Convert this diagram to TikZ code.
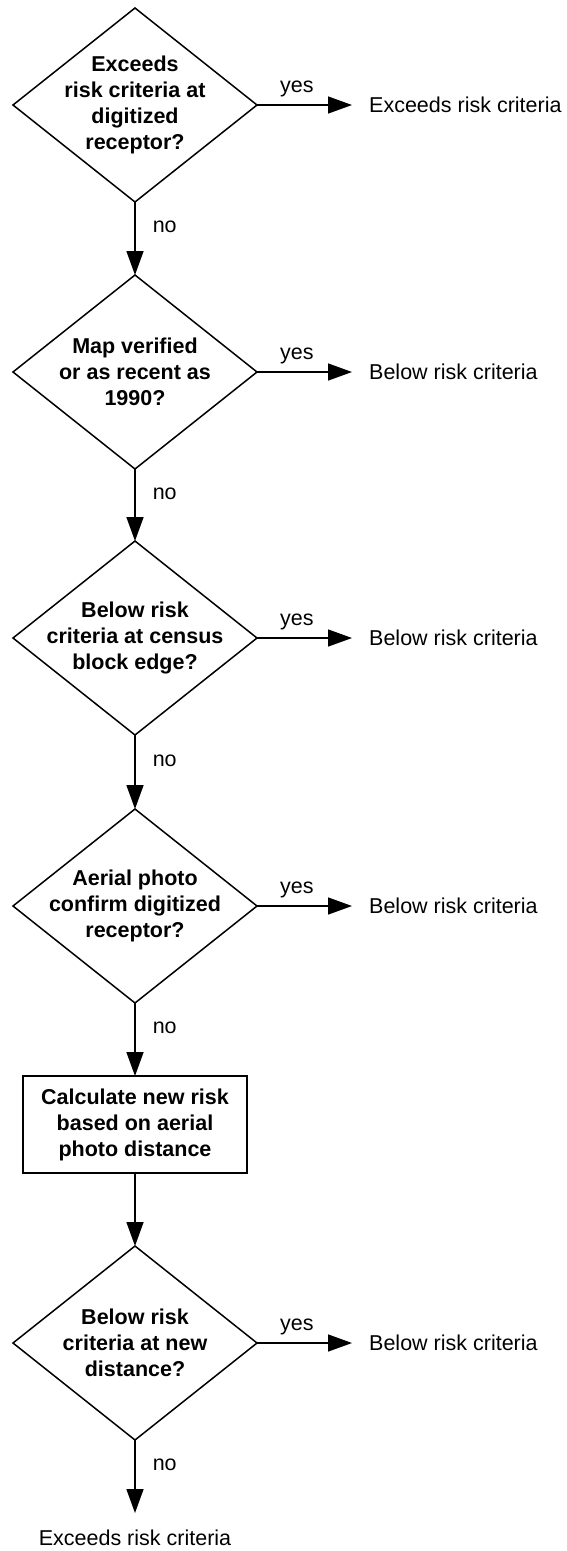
\documentclass[tikz,border=0pt]{standalone}
\usepackage{fontspec}
\setmainfont{Liberation Sans}
\usetikzlibrary{shapes.geometric,arrows.meta}

\begin{document}
\begin{tikzpicture}[x=1pt,y=-1pt,
  every node/.style={font=\fontsize{21.5}{26}\selectfont},
  dia/.style={draw, shape=diamond, minimum width=244pt, minimum height=194pt,
    inner sep=0pt, outer sep=0pt, line width=1.5pt},
  qtext/.style={align=center, font=\fontsize{21.5}{26}\selectfont\bfseries, inner sep=0pt},
  calcbox/.style={draw, rectangle, minimum width=224pt, minimum height=97pt,
    align=center, font=\fontsize{21.5}{26}\selectfont\bfseries,
    line width=1.5pt, outer sep=0pt},
  result/.style={anchor=west, inner xsep=17pt, inner ysep=0pt},
  flow/.style={line width=1.5pt, -{Triangle[length=24pt,width=17pt]}},
  yeslab/.style={pos=0.42, anchor=base, yshift=13pt, inner sep=0pt},
  nolab/.style={pos=0.42, anchor=base west, xshift=17pt, inner sep=0pt},
]
\useasboundingbox (0,0) rectangle (567,1551);

% decision diamonds and the calculation box
\node[dia] (d1) at (135,105) {};
\node[qtext] (t1) at (d1.center) {Exceeds\\risk criteria at\\digitized\\receptor?};
\node[dia] (d2) at (135,372) {};
\node[qtext] (t2) at (d2.center) {Map verified\\or as recent as\\1990?};
\node[dia] (d3) at (135,638) {};
\node[qtext] (t3) at (d3.center) {Below risk\\criteria at census\\block edge?};
\node[dia] (d4) at (135,906) {};
\node[qtext] (t4) at (d4.center) {Aerial photo\\confirm digitized\\receptor?};
\node[calcbox] (b1) at (135,1124.5) {Calculate new risk\\based on aerial\\photo distance};
\node[dia] (d5) at (135,1343) {};
\node[qtext] (t5) at (d5.center) {Below risk\\criteria at new\\distance?};

% outcomes
\node[result] (r1) at (352,105) {Exceeds risk criteria};
\node[result] (r2) at (352,372) {Below risk criteria};
\node[result] (r3) at (352,638) {Below risk criteria};
\node[result] (r4) at (352,906) {Below risk criteria};
\node[result] (r5) at (352,1343) {Below risk criteria};
\coordinate (endtip) at (135,1513);
\node (r6) at (135,1538) {Exceeds risk criteria};

% "yes" branches
\draw[flow] (d1.east) -- node[yeslab] {yes} (r1.west);
\draw[flow] (d2.east) -- node[yeslab] {yes} (r2.west);
\draw[flow] (d3.east) -- node[yeslab] {yes} (r3.west);
\draw[flow] (d4.east) -- node[yeslab] {yes} (r4.west);
\draw[flow] (d5.east) -- node[yeslab] {yes} (r5.west);

% "no" branches
\draw[flow] (d1.south) -- node[nolab] {no} (d2.north);
\draw[flow] (d2.south) -- node[nolab] {no} (d3.north);
\draw[flow] (d3.south) -- node[nolab] {no} (d4.north);
\draw[flow] (d4.south) -- node[nolab] {no} (b1.north);
\draw[flow] (b1.south) -- (d5.north);
\draw[flow] (d5.south) -- node[nolab] {no} (endtip);
\end{tikzpicture}
\end{document}
